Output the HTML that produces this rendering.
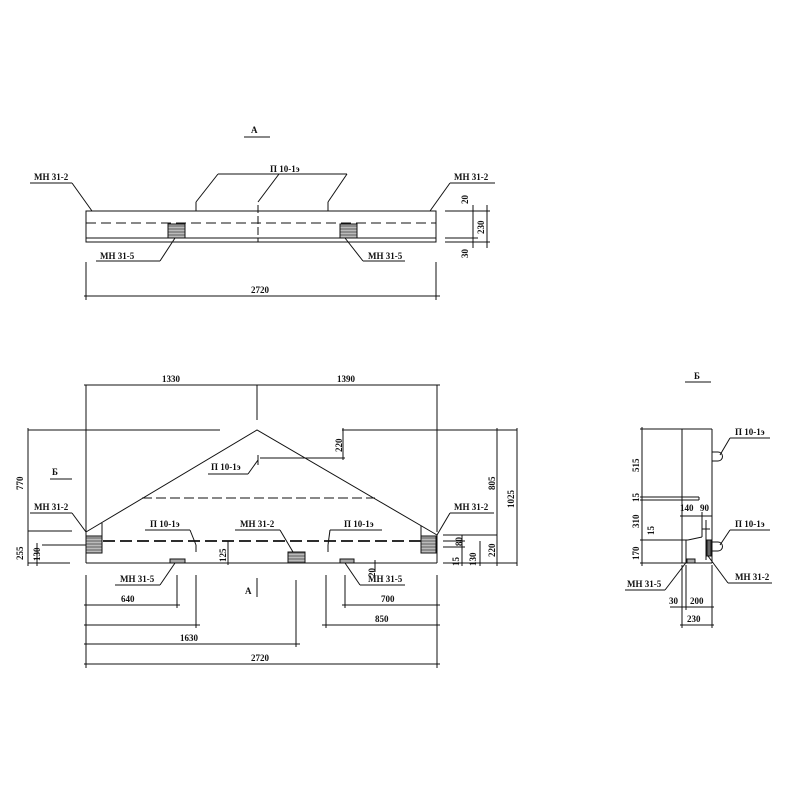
<!DOCTYPE html>
<html><head><meta charset="utf-8"><style>
html,body{margin:0;padding:0;background:#fff;}
svg{display:block;}
text{font-family:"Liberation Serif",serif;font-weight:bold;font-size:9px;fill:#111;}
</style></head><body>
<svg width="800" height="800" viewBox="0 0 800 800" xmlns="http://www.w3.org/2000/svg">
<defs>
<pattern id="h" width="3" height="3" patternUnits="userSpaceOnUse"><rect width="3" height="3" fill="#bbb"/><line x1="0" y1="1" x2="3" y2="1" stroke="#444" stroke-width="0.8"/></pattern>
</defs>
<g stroke="#111" stroke-width="1" fill="none">
<!-- TOP VIEW A -->
<line x1="244" y1="137" x2="270" y2="137"/>
<rect x="86" y="211" width="350" height="31"/>
<line x1="86" y1="223" x2="436" y2="223" stroke-dasharray="10,5"/>
<line x1="86" y1="238" x2="436" y2="238"/>
<line x1="258" y1="205" x2="258" y2="242" stroke-dasharray="8,3"/>
<rect x="168" y="224" width="17" height="14" fill="url(#h)"/>
<rect x="340" y="224" width="17" height="14" fill="url(#h)"/>
<polyline points="218,174 347,174"/>
<line x1="218" y1="174" x2="196" y2="202"/><line x1="196" y1="202" x2="196" y2="211"/>
<line x1="279" y1="174" x2="258" y2="202"/>
<line x1="347" y1="174" x2="328" y2="202"/><line x1="328" y1="202" x2="328" y2="211"/>
<line x1="30" y1="183" x2="72" y2="183"/><line x1="72" y1="183" x2="92" y2="211"/>
<line x1="450" y1="183" x2="495" y2="183"/><line x1="450" y1="183" x2="430" y2="211"/>
<line x1="96" y1="261" x2="160" y2="261"/><line x1="160" y1="261" x2="175" y2="238"/>
<line x1="363" y1="261" x2="405" y2="261"/><line x1="363" y1="261" x2="345" y2="238"/>
<line x1="86" y1="262" x2="86" y2="300"/><line x1="436" y1="262" x2="436" y2="300"/>
<line x1="84" y1="296" x2="440" y2="296"/>
<line x1="445" y1="211" x2="490" y2="211"/><line x1="445" y1="242" x2="490" y2="242"/>
<line x1="445" y1="238" x2="478" y2="238"/>
<line x1="487" y1="205" x2="487" y2="248"/><line x1="473" y1="205" x2="473" y2="248"/>
<!-- MAIN VIEW -->
<line x1="84" y1="385" x2="440" y2="385"/>
<line x1="86" y1="385" x2="86" y2="532"/><line x1="437" y1="385" x2="437" y2="532"/>
<line x1="257" y1="385" x2="257" y2="420"/>
<line x1="28" y1="430" x2="220" y2="430"/><line x1="342" y1="430" x2="517" y2="430"/>
<polyline points="86,532 257,430 437,535"/>
<line x1="86" y1="532" x2="86" y2="563"/><line x1="437" y1="535" x2="437" y2="563"/>
<line x1="86" y1="563" x2="437" y2="563"/>
<line x1="102" y1="523" x2="102" y2="553"/><line x1="421" y1="526" x2="421" y2="553"/>
<line x1="142" y1="498" x2="375" y2="498" stroke-dasharray="10,4"/>
<line x1="86" y1="541" x2="437" y2="541" stroke-dasharray="12,5" stroke-width="1.8"/>
<rect x="86" y="536" width="16" height="17" fill="url(#h)"/>
<rect x="421" y="536" width="15" height="17" fill="url(#h)"/>
<rect x="288" y="552" width="17" height="11" fill="url(#h)"/>
<rect x="170" y="559" width="15" height="4" fill="#aaa"/>
<rect x="340" y="559" width="14" height="4" fill="#aaa"/>
<line x1="258" y1="455" x2="258" y2="465"/>
<line x1="208" y1="474" x2="248" y2="474"/><line x1="248" y1="474" x2="258" y2="460"/>
<line x1="260" y1="458" x2="345" y2="458"/><line x1="343" y1="428" x2="343" y2="460"/>
<line x1="50" y1="479" x2="72" y2="479"/>
<line x1="30" y1="513" x2="72" y2="513"/><line x1="72" y1="513" x2="86" y2="532"/>
<line x1="450" y1="513" x2="494" y2="513"/><line x1="450" y1="513" x2="437" y2="535"/>
<line x1="145" y1="530" x2="190" y2="530"/><line x1="190" y1="530" x2="196" y2="545"/><line x1="196" y1="545" x2="196" y2="552"/>
<line x1="235" y1="530" x2="280" y2="530"/><line x1="280" y1="530" x2="293" y2="552"/>
<line x1="330" y1="530" x2="382" y2="530"/><line x1="330" y1="530" x2="328" y2="545"/><line x1="328" y1="545" x2="328" y2="552"/>
<line x1="115" y1="585" x2="160" y2="585"/><line x1="160" y1="585" x2="175" y2="563"/>
<line x1="360" y1="585" x2="405" y2="585"/><line x1="360" y1="585" x2="345" y2="563"/>
<line x1="28" y1="428" x2="28" y2="566"/><line x1="37" y1="543" x2="37" y2="566"/>
<line x1="28" y1="531" x2="72" y2="531"/><line x1="42" y1="545" x2="86" y2="545"/>
<line x1="28" y1="563" x2="70" y2="563"/>
<line x1="228" y1="541" x2="228" y2="565"/>
<line x1="497" y1="428" x2="497" y2="566"/><line x1="517" y1="428" x2="517" y2="566"/>
<line x1="443" y1="535" x2="497" y2="535"/><line x1="443" y1="563" x2="517" y2="563"/>
<line x1="443" y1="541" x2="465" y2="541"/><line x1="443" y1="547" x2="465" y2="547"/>
<line x1="480" y1="541" x2="480" y2="566"/><line x1="462" y1="535" x2="462" y2="566"/>
<line x1="86" y1="575" x2="86" y2="668"/><line x1="437" y1="575" x2="437" y2="668"/>
<line x1="177" y1="575" x2="177" y2="608"/><line x1="196" y1="575" x2="196" y2="628"/>
<line x1="296" y1="580" x2="296" y2="647"/><line x1="345" y1="575" x2="345" y2="608"/>
<line x1="326" y1="575" x2="326" y2="628"/>
<line x1="84" y1="605" x2="180" y2="605"/><line x1="84" y1="625" x2="200" y2="625"/>
<line x1="84" y1="644" x2="300" y2="644"/><line x1="84" y1="664" x2="440" y2="664"/>
<line x1="342" y1="605" x2="440" y2="605"/><line x1="322" y1="625" x2="440" y2="625"/>
<line x1="257" y1="578" x2="257" y2="597"/>
<line x1="375" y1="560" x2="375" y2="572"/>
<!-- SIDE VIEW Б -->
<line x1="685" y1="382" x2="711" y2="382"/>
<line x1="682" y1="429" x2="712" y2="429"/><line x1="712" y1="429" x2="712" y2="563"/>
<line x1="682" y1="429" x2="682" y2="563"/><line x1="682" y1="563" x2="712" y2="563"/>
<line x1="642" y1="427" x2="642" y2="566"/>
<line x1="640" y1="429" x2="682" y2="429"/><line x1="640" y1="497" x2="699" y2="497"/>
<line x1="640" y1="500" x2="699" y2="500"/><line x1="699" y1="497" x2="699" y2="500"/>
<line x1="640" y1="540" x2="688" y2="540"/><line x1="688" y1="540" x2="702" y2="537"/>
<line x1="702" y1="512" x2="702" y2="537"/><line x1="702" y1="529" x2="710" y2="529"/>
<line x1="686" y1="540" x2="686" y2="563"/><line x1="706" y1="520" x2="706" y2="560"/>
<line x1="640" y1="563" x2="682" y2="563"/>
<line x1="680" y1="516" x2="712" y2="516"/>
<rect x="707" y="540" width="4" height="16" fill="#666"/>
<path d="M712,452 h6 a4.5,4.5 0 0 1 0,9 h-6"/>
<path d="M712,542 h6 a4.5,4.5 0 0 1 0,9 h-6"/>
<line x1="730" y1="438" x2="770" y2="438"/><line x1="730" y1="438" x2="720" y2="455"/>
<line x1="730" y1="530" x2="770" y2="530"/><line x1="730" y1="530" x2="720" y2="545"/>
<line x1="728" y1="583" x2="772" y2="583"/><line x1="728" y1="583" x2="708" y2="556"/>
<line x1="625" y1="590" x2="665" y2="590"/><line x1="665" y1="590" x2="688" y2="560"/>
<rect x="687" y="559" width="8" height="4" fill="#aaa"/>
<line x1="682" y1="565" x2="682" y2="628"/><line x1="712" y1="565" x2="712" y2="628"/>
<line x1="686" y1="565" x2="686" y2="610"/>
<line x1="670" y1="607" x2="714" y2="607"/><line x1="680" y1="625" x2="714" y2="625"/>
</g>
<g>
<text x="251" y="133">A</text>
<text x="270" y="172">П 10-1э</text>
<text x="34" y="180">МН 31-2</text>
<text x="454" y="180">МН 31-2</text>
<text x="100" y="259">МН 31-5</text>
<text x="368" y="259">МН 31-5</text>
<text x="251" y="293">2720</text>
<text transform="translate(468,204) rotate(-90)">20</text>
<text transform="translate(484,234) rotate(-90)">230</text>
<text transform="translate(468,258) rotate(-90)">30</text>
<text x="162" y="382">1330</text>
<text x="337" y="382">1390</text>
<text x="211" y="470">П 10-1э</text>
<text transform="translate(342,452) rotate(-90)">220</text>
<text x="52" y="475">Б</text>
<text transform="translate(23,490) rotate(-90)">770</text>
<text transform="translate(23,560) rotate(-90)">255</text>
<text transform="translate(40,561) rotate(-90)">130</text>
<text x="34" y="510">МН 31-2</text>
<text x="454" y="510">МН 31-2</text>
<text x="150" y="527">П 10-1э</text>
<text x="240" y="527">МН 31-2</text>
<text x="344" y="527">П 10-1э</text>
<text transform="translate(226,562) rotate(-90)">125</text>
<text transform="translate(495,490) rotate(-90)">805</text>
<text transform="translate(514,508) rotate(-90)">1025</text>
<text transform="translate(462,546) rotate(-90)">80</text>
<text transform="translate(459,566) rotate(-90)">15</text>
<text transform="translate(476,566) rotate(-90)">130</text>
<text transform="translate(495,557) rotate(-90)">220</text>
<text transform="translate(375,577) rotate(-90)">20</text>
<text x="120" y="582">МН 31-5</text>
<text x="368" y="582">МН 31-5</text>
<text x="245" y="594">A</text>
<text x="121" y="602">640</text>
<text x="381" y="602">700</text>
<text x="375" y="622">850</text>
<text x="180" y="641">1630</text>
<text x="251" y="661">2720</text>
<text x="694" y="379">Б</text>
<text x="735" y="435">П 10-1э</text>
<text x="735" y="527">П 10-1э</text>
<text x="735" y="580">МН 31-2</text>
<text x="627" y="587">МН 31-5</text>
<text transform="translate(639,472) rotate(-90)">515</text>
<text transform="translate(639,502) rotate(-90)">15</text>
<text transform="translate(639,528) rotate(-90)">310</text>
<text transform="translate(654,535) rotate(-90)">15</text>
<text transform="translate(639,560) rotate(-90)">170</text>
<text x="680" y="511">140</text><text x="700" y="511">90</text>
<text x="669" y="604">30</text><text x="690" y="604">200</text>
<text x="687" y="622">230</text>
</g>
</svg>
</body></html>
